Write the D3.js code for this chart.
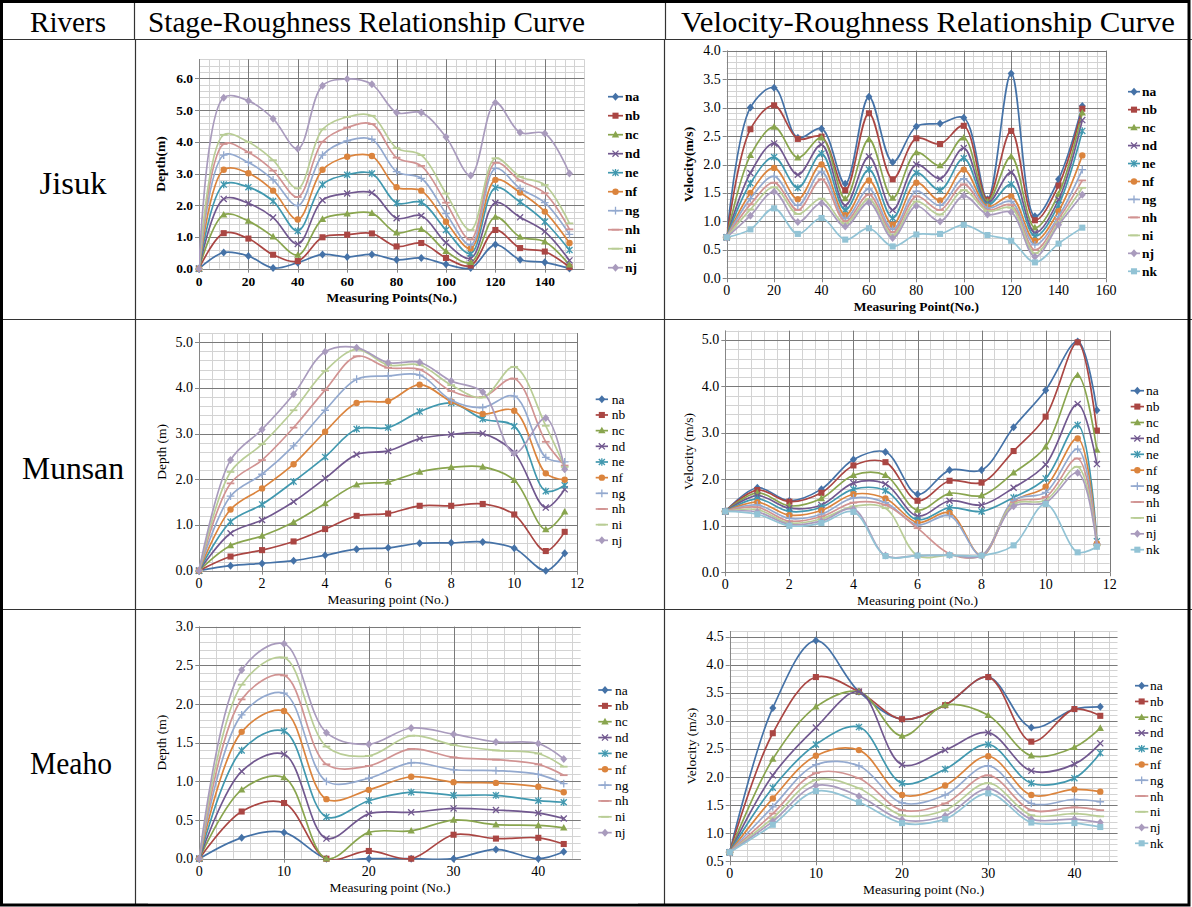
<!DOCTYPE html>
<html><head><meta charset="utf-8">
<script src="https://cdn.jsdelivr.net/npm/d3@7"></script>
<style>body{margin:0;background:#fff}svg{display:block}</style>
</head><body>
<svg id="fig" width="1192" height="907"></svg>
<script>
// ---------------- DATA ----------------
const seriesNames = ["na","nb","nc","nd","ne","nf","ng","nh","ni","nj","nk"];
const headers = ["Rivers","Stage-Roughness Relationship Curve","Velocity-Roughness Relationship Curve"];
const rivers = ["Jisuk","Munsan","Meaho"];

const jisukX = [0,10,20,30,40,50,60,70,80,90,100,110,120,130,140,150];
const jisukDepth = [
  [0,0.51,0.40,0.02,0.19,0.45,0.37,0.45,0.28,0.34,0.14,0.02,0.76,0.28,0.20,0.01],
  [0,1.12,0.95,0.44,0.24,0.99,1.07,1.11,0.70,0.81,0.34,0.10,1.22,0.65,0.54,0.05],
  [0,1.70,1.50,1.01,0.43,1.56,1.73,1.75,1.13,1.24,0.55,0.20,1.63,1.00,0.85,0.12],
  [0,2.20,2.06,1.61,0.78,2.16,2.37,2.39,1.59,1.67,0.82,0.33,2.08,1.62,1.17,0.26],
  [0,2.65,2.57,2.13,1.19,2.65,2.96,3.00,2.07,2.09,1.22,0.48,2.55,2.10,1.48,0.59],
  [0,3.12,3.01,2.46,1.55,3.12,3.53,3.55,2.57,2.46,1.48,0.64,2.80,2.40,1.80,0.81],
  [0,3.58,3.35,2.80,1.99,3.58,4.03,4.08,3.06,2.85,1.74,0.75,3.16,2.53,2.08,1.08],
  [0,3.93,3.67,3.09,2.26,4.00,4.45,4.56,3.50,3.24,2.08,0.92,3.34,2.78,2.38,1.24],
  [0,4.22,3.99,3.42,2.53,4.39,4.78,4.82,3.80,3.58,2.37,1.22,3.48,2.90,2.64,1.43],
  [0,5.39,5.29,4.73,3.78,5.77,5.98,5.81,4.92,4.92,4.15,2.94,5.23,4.29,4.26,3.00]
];
const jisukVelocity = [
  [0.72,3.00,3.35,2.47,2.63,1.66,3.19,2.04,2.67,2.72,2.82,1.39,3.60,1.09,1.74,3.03],
  [0.72,2.62,3.04,2.45,2.49,1.55,2.90,1.74,2.46,2.36,2.68,1.38,2.59,1.02,1.63,2.98],
  [0.72,2.16,2.66,2.12,2.47,1.40,2.44,1.41,2.21,1.98,2.47,1.35,2.14,0.89,1.48,2.91],
  [0.72,1.85,2.37,1.82,2.35,1.28,2.14,1.20,2.00,1.75,2.29,1.32,1.86,0.80,1.38,2.78],
  [0.72,1.67,2.13,1.59,2.19,1.20,1.91,1.06,1.85,1.55,2.11,1.29,1.65,0.74,1.29,2.59],
  [0.72,1.50,1.94,1.39,2.00,1.11,1.72,0.94,1.68,1.37,1.91,1.26,1.44,0.66,1.18,2.16],
  [0.72,1.40,1.79,1.28,1.87,1.05,1.57,0.86,1.53,1.28,1.75,1.24,1.35,0.59,1.09,1.91],
  [0.72,1.30,1.68,1.20,1.74,1.00,1.47,0.81,1.44,1.20,1.65,1.20,1.29,0.50,1.04,1.72],
  [0.72,1.21,1.60,1.13,1.40,0.96,1.39,0.76,1.35,1.12,1.55,1.18,1.24,0.44,0.98,1.59],
  [0.72,1.10,1.52,0.99,1.32,0.91,1.33,0.71,1.27,1.00,1.45,1.12,1.16,0.38,0.94,1.47],
  [0.72,0.86,1.23,0.78,1.06,0.68,0.88,0.56,0.77,0.78,0.94,0.76,0.66,0.28,0.61,0.89]
];

const munsanX = [0,1,2,3,4,5,6,7,8,9,10,11,11.6];
const munsanDepth = [
  [0,0.11,0.16,0.22,0.34,0.47,0.50,0.60,0.61,0.63,0.49,0.00,0.38],
  [0,0.31,0.45,0.64,0.91,1.20,1.25,1.42,1.42,1.46,1.23,0.43,0.85],
  [0,0.55,0.76,1.06,1.47,1.88,1.94,2.16,2.26,2.27,1.98,0.90,1.29],
  [0,0.82,1.11,1.51,2.02,2.54,2.62,2.89,2.98,3.00,2.58,1.38,1.78],
  [0,1.07,1.45,1.95,2.49,3.10,3.13,3.48,3.67,3.32,3.16,1.74,1.87],
  [0,1.34,1.80,2.33,3.04,3.67,3.71,4.07,3.70,3.43,3.50,2.13,1.99],
  [0,1.63,2.11,2.73,3.51,4.19,4.26,4.28,3.73,3.57,3.82,2.48,2.38],
  [0,1.91,2.42,3.13,3.95,4.69,4.44,4.40,3.93,3.80,4.20,2.82,2.30],
  [0,2.16,2.77,3.51,4.37,4.84,4.50,4.50,4.06,3.79,4.46,3.17,2.27],
  [0,2.42,3.09,3.86,4.79,4.88,4.55,4.56,4.15,3.91,2.57,3.34,2.22]
];
const munsanVelocity = [
  [1.31,1.82,1.54,1.79,2.43,2.59,1.68,2.20,2.20,3.12,3.92,4.97,3.49],
  [1.31,1.77,1.52,1.71,2.30,2.37,1.54,1.97,1.93,2.61,3.35,4.95,3.05],
  [1.31,1.71,1.43,1.59,2.09,2.09,1.34,1.70,1.65,2.14,2.70,4.24,2.63],
  [1.31,1.65,1.38,1.45,1.92,1.90,1.21,1.54,1.45,1.82,2.32,3.62,2.33],
  [1.31,1.58,1.31,1.40,1.79,1.76,1.13,1.39,1.31,1.61,2.02,3.17,0.67],
  [1.31,1.51,1.23,1.33,1.68,1.59,1.07,1.28,0.36,1.52,1.84,2.88,0.62],
  [1.31,1.45,1.16,1.25,1.60,1.50,1.02,1.22,0.36,1.55,1.72,2.65,0.60],
  [1.31,1.40,1.10,1.20,1.50,1.45,0.95,0.40,0.36,1.50,1.62,2.45,0.60],
  [1.31,1.35,1.06,1.15,1.42,1.38,0.36,0.37,0.36,1.47,1.55,2.27,0.58],
  [1.31,1.30,1.03,1.10,1.36,0.36,0.36,0.37,0.36,1.42,1.50,2.14,0.57],
  [1.31,1.25,1.00,1.06,1.30,0.35,0.36,0.37,0.36,0.58,1.47,0.43,0.55]
];

const meahoX = [0,5,10,15,20,25,30,35,40,43];
const meahoDepth = [
  [0,0.27,0.34,0,0,0,0,0.12,0,0.09],
  [0,0.61,0.72,0,0.10,0,0.31,0.26,0.27,0.19],
  [0,0.89,1.05,0,0.34,0.36,0.50,0.44,0.43,0.40],
  [0,1.13,1.35,0.26,0.58,0.60,0.65,0.63,0.59,0.52],
  [0,1.40,1.65,0.54,0.75,0.86,0.82,0.82,0.75,0.73],
  [0,1.64,1.91,0.77,0.89,1.06,0.99,0.98,0.93,0.86],
  [0,1.86,2.14,1.00,1.04,1.24,1.15,1.14,1.09,0.97],
  [0,2.06,2.37,1.22,1.20,1.42,1.31,1.28,1.22,1.08],
  [0,2.25,2.60,1.45,1.33,1.59,1.47,1.40,1.36,1.19],
  [0,2.44,2.78,1.63,1.48,1.69,1.61,1.51,1.49,1.29]
];
const meahoVelocity = [
  [0.66,3.23,4.43,3.52,3.03,3.28,3.78,2.88,3.21,3.25],
  [0.66,2.78,3.78,3.52,3.03,3.28,3.78,2.63,3.21,3.09],
  [0.66,2.32,3.25,3.52,2.73,3.28,3.10,2.38,2.53,2.87],
  [0.66,2.03,2.88,3.52,2.22,2.48,2.79,2.11,2.23,2.60],
  [0.66,1.81,2.58,2.89,1.89,2.14,2.58,1.89,1.98,2.43],
  [0.66,1.62,2.38,2.48,1.68,1.85,2.37,1.68,1.78,1.74],
  [0.66,1.47,2.22,2.20,1.54,1.68,2.20,1.53,1.60,1.56],
  [0.66,1.35,2.07,1.98,1.41,1.53,2.03,1.41,1.46,1.41],
  [0.66,1.27,1.95,1.80,1.32,1.41,1.89,1.32,1.35,1.30],
  [0.66,1.21,1.85,1.66,1.24,1.31,1.79,1.25,1.25,1.19],
  [0.66,1.15,1.75,1.55,1.18,1.25,1.71,1.19,1.18,1.11]
];

const jisukDepthXTicks = [0,20,40,60,80,100,120,140];
const jisukDepthYTicks = [0,1,2,3,4,5,6];
const jisukVelXTicks = [0,20,40,60,80,100,120,140,160];
const jisukVelYTicks = [0,0.5,1,1.5,2,2.5,3,3.5,4];
const munsanXTicks = [0,2,4,6,8,10,12];
const munsanYTicks = [0,1,2,3,4,5];
const meahoXTicks = [0,10,20,30,40];
const meahoDepthYTicks = [0,0.5,1,1.5,2,2.5,3];
const meahoVelYTicks = [0.5,1,1.5,2,2.5,3,3.5,4,4.5];

// ---------------- STYLE ----------------
const colors = ["#4572A7","#AA4643","#89A54E","#71588F","#4198AF","#DB843D","#93A9CF","#D19392","#B9CD96","#A99BBD","#92C3D5"];
const markerTypes = ["diamond","square","triangle","x","star","circle","plus","dash","dash","diamond","square"];
const FONT = "'Liberation Serif','DejaVu Serif',serif";

const svg = d3.select("#fig");
svg.append("rect").attr("width",1192).attr("height",907).attr("fill","#fff");

function mark(g, type, cx, cy, col) {
  const s = 3.2;
  if (type === "diamond") g.append("path").attr("d",`M${cx},${cy-s*1.25}L${cx+s*1.1},${cy}L${cx},${cy+s*1.25}L${cx-s*1.1},${cy}Z`).attr("fill",col);
  else if (type === "square") g.append("rect").attr("x",cx-s*0.95).attr("y",cy-s*0.95).attr("width",s*1.9).attr("height",s*1.9).attr("fill",col);
  else if (type === "triangle") g.append("path").attr("d",`M${cx},${cy-s*1.2}L${cx+s*1.15},${cy+s*0.85}L${cx-s*1.15},${cy+s*0.85}Z`).attr("fill",col);
  else if (type === "circle") g.append("circle").attr("cx",cx).attr("cy",cy).attr("r",s*1.0).attr("fill",col);
  else {
    let d = "";
    const a = s*0.95;
    if (type === "x" || type === "star") d += `M${cx-a},${cy-a}L${cx+a},${cy+a}M${cx-a},${cy+a}L${cx+a},${cy-a}`;
    if (type === "star") d += `M${cx},${cy-a*1.2}L${cx},${cy+a*1.2}`;
    if (type === "plus") d += `M${cx-s*1.2},${cy}L${cx+s*1.2},${cy}M${cx},${cy-s*1.2}L${cx},${cy+s*1.2}`;
    if (type === "dash") d += `M${cx-s*1.2},${cy}L${cx+s*1.2},${cy}`;
    g.append("path").attr("d",d).attr("stroke",col).attr("stroke-width",type==="dash"?1.8:1.3).attr("fill","none");
  }
}

function steps(d0, d1, step) {
  const n = Math.floor((d1 - d0) / step + 1e-6);
  return d3.range(n + 1).map(i => +(d0 + i * step).toFixed(6));
}

let clipId = 0;
function chart(c) {
  const x = d3.scaleLinear().domain(c.xd).range([c.L, c.R]);
  const y = d3.scaleLinear().domain(c.yd).range([c.B, c.T]);
  const g = svg.append("g");
  const px = v => Math.round(v) + 0.5;
  const fw = c.bold ? "bold" : "normal";
  const tfw = c.tickBold ? "bold" : "normal";

  // minor grid
  steps(c.xd[0], c.xd[1], c.xMinor).forEach(v => g.append("line")
    .attr("x1",px(x(v))).attr("x2",px(x(v))).attr("y1",c.T).attr("y2",c.B).attr("stroke","#d3d3d3").attr("stroke-width",1));
  steps(c.yd[0], c.yd[1], c.yMinor).forEach(v => g.append("line")
    .attr("y1",px(y(v))).attr("y2",px(y(v))).attr("x1",c.L).attr("x2",c.R).attr("stroke","#d3d3d3").attr("stroke-width",1));
  // major grid
  steps(c.xd[0], c.xMajorEnd, c.xMajor).forEach(v => g.append("line")
    .attr("x1",px(x(v))).attr("x2",px(x(v))).attr("y1",c.T).attr("y2",c.B).attr("stroke","#7a7a7a").attr("stroke-width",1));
  steps(c.yd[0], c.yMajorEnd, c.yMajor).forEach(v => g.append("line")
    .attr("y1",px(y(v))).attr("y2",px(y(v))).attr("x1",c.L).attr("x2",c.R).attr("stroke","#7a7a7a").attr("stroke-width",1));
  // axes lines
  g.append("line").attr("x1",px(c.L)).attr("x2",px(c.L)).attr("y1",c.T).attr("y2",c.B+0.5).attr("stroke","#868686");
  g.append("line").attr("x1",c.L).attr("x2",c.R).attr("y1",px(c.B)).attr("y2",px(c.B)).attr("stroke","#868686");

  // tick labels
  c.xTicks.forEach(v => {
    g.append("line").attr("x1",px(x(v))).attr("x2",px(x(v))).attr("y1",c.B).attr("y2",c.B+4).attr("stroke","#868686");
    g.append("text").attr("x",x(v)).attr("y",c.B+17).attr("text-anchor","middle")
      .attr("font-family",FONT).attr("font-size",c.tickSize).attr("font-weight",tfw).attr("fill","#000").text(v);
  });
  c.yTicks.forEach(v => {
    g.append("line").attr("x1",c.L-4).attr("x2",c.L).attr("y1",px(y(v))).attr("y2",px(y(v))).attr("stroke","#868686");
    g.append("text").attr("x",c.L-6).attr("y",y(v)+4.5).attr("text-anchor","end")
      .attr("font-family",FONT).attr("font-size",c.tickSize).attr("font-weight",tfw).attr("fill","#000").text(d3.format(".1f")(v));
  });
  // titles
  g.append("text").attr("x",(c.L+c.R)/2).attr("y",c.B+33).attr("text-anchor","middle")
    .attr("font-family",FONT).attr("font-size",13.5).attr("font-weight",fw).text(c.xTitle);
  g.append("text").attr("transform",`translate(${c.yTitleX + 4.5},${(c.T+c.B)/2}) rotate(-90)`).attr("text-anchor","middle")
    .attr("font-family",FONT).attr("font-size",13.5).attr("font-weight",fw).text(c.yTitle);

  // clip
  const id = "clip" + (clipId++);
  svg.append("clipPath").attr("id",id).append("rect").attr("x",c.L).attr("y",c.T).attr("width",c.R-c.L).attr("height",c.B-c.T+1);

  const line = d3.line().x((d,i) => x(c.xs[i])).y(d => y(d)).curve(d3.curveCatmullRom.alpha(0.5));
  c.series.forEach((s, k) => {
    g.append("path").attr("d", line(s)).attr("fill","none").attr("stroke",colors[k]).attr("stroke-width",1.7)
      .attr("clip-path",`url(#${id})`);
    s.forEach((v, i) => mark(g, markerTypes[k], x(c.xs[i]), y(v), colors[k]));
  });

  // legend
  c.series.forEach((s, k) => {
    const ly = c.lg.y0 + k * c.lg.dy;
    g.append("line").attr("x1",c.lg.x1).attr("x2",c.lg.x2).attr("y1",ly).attr("y2",ly).attr("stroke",colors[k]).attr("stroke-width",1.7);
    mark(g, markerTypes[k], (c.lg.x1 + c.lg.x2)/2, ly, colors[k]);
    g.append("text").attr("x",c.lg.tx).attr("y",ly+4.5).attr("font-family",FONT).attr("font-size",13.5)
      .attr("font-weight",fw).text(seriesNames[k]);
  });
}

// ---------------- TABLE ----------------
const tg = svg.append("g");
[[135,39,135,906],[664,39,664,906]].forEach(l => tg.append("line").attr("x1",l[0]+0.5).attr("x2",l[2]+0.5).attr("y1",l[1]).attr("y2",l[3]).attr("stroke","#333").attr("stroke-width",1.2));
[[134,0,134,39],[665,0,665,39]].forEach(l => tg.append("line").attr("x1",l[0]+0.5).attr("x2",l[2]+0.5).attr("y1",l[1]).attr("y2",l[3]).attr("stroke","#333").attr("stroke-width",1.2));
[39,319,609].forEach(yy => tg.append("line").attr("x1",0).attr("x2",1192).attr("y1",yy+0.5).attr("y2",yy+0.5).attr("stroke","#333").attr("stroke-width",1.2));
tg.append("rect").attr("x",1.5).attr("y",1.5).attr("width",1187.5).attr("height",903.5).attr("fill","none").attr("stroke","#000").attr("stroke-width",3);

const headerPos = [[68,76],[366.5,437],[928,494]];
headers.forEach((h,i) => tg.append("text").attr("x",headerPos[i][0]).attr("y",32).attr("text-anchor","middle")
  .attr("font-family",FONT).attr("font-size",29).attr("textLength",headerPos[i][1]).attr("lengthAdjust","spacingAndGlyphs").text(h));
const riverPos = [[73,194,67],[73,479,102],[71,774,82]];
rivers.forEach((r,i) => tg.append("text").attr("x",riverPos[i][0]).attr("y",riverPos[i][1]).attr("text-anchor","middle")
  .attr("font-family",FONT).attr("font-size",31).attr("textLength",riverPos[i][2]).attr("lengthAdjust","spacingAndGlyphs").text(r));
tg.append("line").attr("x1",148).attr("x2",638).attr("y1",903.5).attr("y2",903.5).attr("stroke","#aaa");

// ---------------- CHARTS ----------------
chart({L:199,R:584.3,T:59.3,B:268.7,xd:[0,156],yd:[0,6.6],xMajor:20,xMajorEnd:140,xMinor:4,yMajor:1,yMajorEnd:6,yMinor:0.2,
  xTicks:jisukDepthXTicks,yTicks:jisukDepthYTicks,xs:jisukX,series:jisukDepth,bold:true,tickBold:true,tickSize:13.5,
  xTitle:"Measuring Points(No.)",yTitle:"Depth(m)",yTitleX:160,lg:{x1:608,x2:623,tx:625,y0:96.7,dy:19}});
chart({L:726.7,R:1106,T:50.7,B:278.3,xd:[0,160],yd:[0,4],xMajor:20,xMajorEnd:160,xMinor:4,yMajor:0.5,yMajorEnd:4,yMinor:0.1,
  xTicks:jisukVelXTicks,yTicks:jisukVelYTicks,xs:jisukX,series:jisukVelocity,bold:true,tickBold:false,tickSize:14,
  xTitle:"Measuring Point(No.)",yTitle:"Velocity(m/s)",yTitleX:688,lg:{x1:1128,x2:1140,tx:1142,y0:91.7,dy:17.96}});
chart({L:199,R:577.3,T:333,B:570.7,xd:[0,12],yd:[0,5.2],xMajor:2,xMajorEnd:12,xMinor:0.4,yMajor:1,yMajorEnd:5,yMinor:0.2,
  xTicks:munsanXTicks,yTicks:munsanYTicks,xs:munsanX,series:munsanDepth,bold:false,tickBold:false,tickSize:14,
  xTitle:"Measuring point (No.)",yTitle:"Depth (m)",yTitleX:161,lg:{x1:595.7,x2:608,tx:611.7,y0:399.3,dy:15.67}});
chart({L:725.3,R:1109.7,T:330.7,B:572.3,xd:[0,12],yd:[0,5.2],xMajor:2,xMajorEnd:12,xMinor:0.4,yMajor:1,yMajorEnd:5,yMinor:0.2,
  xTicks:munsanXTicks,yTicks:munsanYTicks,xs:munsanX,series:munsanVelocity,bold:false,tickBold:false,tickSize:14,
  xTitle:"Measuring point (No.)",yTitle:"Velocity (m/s)",yTitleX:688,lg:{x1:1130.7,x2:1144,tx:1146,y0:390.7,dy:15.9}});
chart({L:199.3,R:580.7,T:626.7,B:858.7,xd:[0,45],yd:[0,3],xMajor:10,xMajorEnd:40,xMinor:2,yMajor:0.5,yMajorEnd:3,yMinor:0.1,
  xTicks:meahoXTicks,yTicks:meahoDepthYTicks,xs:meahoX,series:meahoDepth,bold:false,tickBold:false,tickSize:14,
  xTitle:"Measuring point (No.)",yTitle:"Depth (m)",yTitleX:161,lg:{x1:598.3,x2:611.7,tx:615,y0:690,dy:15.85}});
chart({L:729.7,R:1117.5,T:631,B:861.3,xd:[0,45],yd:[0.5,4.6],xMajor:10,xMajorEnd:40,xMinor:2,yMajor:0.5,yMajorEnd:4.5,yMinor:0.1,
  xTicks:meahoXTicks,yTicks:meahoVelYTicks,xs:meahoX,series:meahoVelocity,bold:false,tickBold:false,tickSize:14,
  xTitle:"Measuring point (No.)",yTitle:"Velocity (m/s)",yTitleX:691,lg:{x1:1135,x2:1148.3,tx:1150,y0:685.7,dy:15.76}});
</script>
</body></html>
